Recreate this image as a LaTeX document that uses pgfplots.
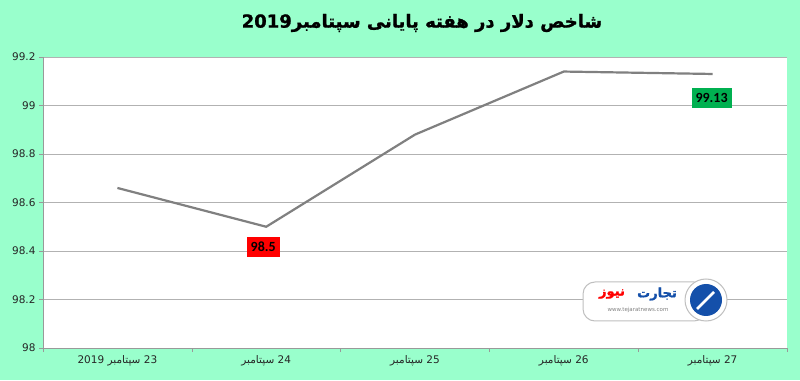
\documentclass[border=0pt]{standalone}
\usepackage{fontspec}
\setmainfont{DejaVu Sans}
\newfontfamily\arabicfont[Script=Arabic]{DejaVu Sans}
\newfontfamily\arabicbold[Script=Arabic,FakeBold=1.2]{DejaVu Sans Bold}
\newfontfamily\calibri{Carlito}
\usepackage{pgfplots}
\pgfplotsset{compat=1.18}
\TeXXeTstate=1
\definecolor{bg}{RGB}{153,255,204}
\definecolor{linegray}{RGB}{128,128,128}
\definecolor{lblgreen}{RGB}{0,176,80}
\definecolor{logoblue}{RGB}{20,80,170}
\newcommand\fa[1]{{\arabicfont\beginR #1\endR}}
\begin{document}
\begin{tikzpicture}[x=1pt,y=1pt]
\fill[bg] (0,0) rectangle (800,380);
\node at (422,357) {\arabicbold\fontsize{18}{20}\selectfont\beginR شاخص دلار در هفته پایانی سپتامبر2019\endR};
\begin{axis}[
  at={(43pt,32pt)}, anchor=south west,
  scale only axis, width=744pt, height=291pt,
  xmin=-0.5, xmax=4.5, ymin=98, ymax=99.2,
  axis background/.style={fill=white},
  axis lines*=left,
  axis line style={draw=gray!80, line width=0.8pt},
  ytick={98,98.2,98.4,98.6,98.8,99,99.2},
  ymajorgrids, grid style={draw=gray!60, line width=0.6pt},
  xtick={-0.5,0.5,1.5,2.5,3.5,4.5},
  xticklabels={\fa{23 سپتامبر 2019},\fa{24 سپتامبر},\fa{25 سپتامبر},\fa{26 سپتامبر},\fa{27 سپتامبر},{}},
  xticklabel style={xshift=74.4pt, font=\fontsize{10.5}{12}\selectfont, text=black!85},
  yticklabel style={font=\fontsize{10.5}{12}\selectfont, text=black!85},
  /pgf/number format/assume math mode=true,
  tick align=outside, major tick length=4pt,
  tick style={draw=gray!80, line width=0.6pt},
  xtick pos=bottom, ytick pos=left,
  clip=false,
]
\addplot[color=linegray, line width=2.2pt] coordinates {(0,98.66) (1,98.5) (2,98.88) (3,99.14) (4,99.13)};
\node[fill=red, inner xsep=4pt, inner ysep=2pt, minimum height=20pt, font=\calibri\bfseries\fontsize{14}{15}\selectfont] at (axis cs:1,98.5) [xshift=-3pt, yshift=-20pt] {98.5};
\node[fill=lblgreen, inner xsep=4pt, inner ysep=2pt, minimum height=20pt, font=\calibri\bfseries\fontsize{14}{15}\selectfont] at (axis cs:4,99.13) [xshift=-1pt, yshift=-24pt] {99.13};
\end{axis}
% logo watermark
\draw[rounded corners=12pt, fill=white, draw=gray!50, line width=1pt] (583,59) rectangle (706,98);
\node[text=logoblue] at (657,86) {\arabicbold\fontsize{13}{14}\selectfont\beginR تجارت\endR};
\node[text=red] at (612,86) {\arabicbold\fontsize{13}{14}\selectfont\beginR نیوز\endR};
\node[text=gray] at (638,70) {\fontsize{5.5}{6}\selectfont www.tejaratnews.com};
\fill[white] (706,80) circle (21);
\draw[gray!50, line width=1pt] (706,80) circle (21);
\fill[logoblue] (706,80) circle (16);
\draw[white, line width=2.5pt] (697,71) -- (714,88);
\pgfresetboundingbox
\path (0,0) rectangle (800,380);
\end{tikzpicture}
\end{document}
